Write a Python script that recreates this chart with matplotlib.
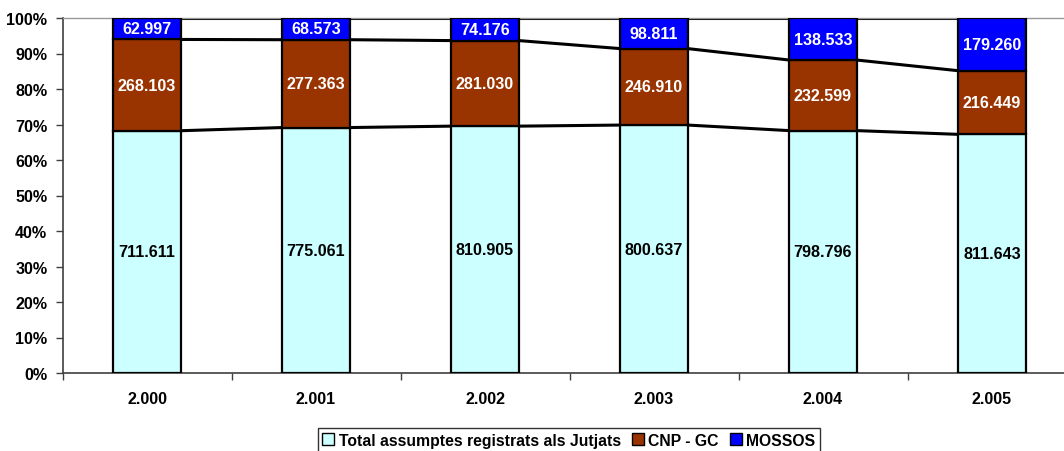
import numpy as np
import matplotlib.pyplot as plt

plt.rcParams['font.family'] = ['Liberation Sans', 'DejaVu Sans']
plt.rcParams['font.weight'] = 'bold'

years = ['2.000', '2.001', '2.002', '2.003', '2.004', '2.005']
jutjats = [711611, 775061, 810905, 800637, 798796, 811643]
cnp_gc = [268103, 277363, 281030, 246910, 232599, 216449]
mossos = [62997, 68573, 74176, 98811, 138533, 179260]

series = [jutjats, cnp_gc, mossos]
names = ['Total assumptes registrats als Jutjats', 'CNP - GC', 'MOSSOS']
colors = ['#CCFFFF', '#993300', '#0000FF']
text_colors = ['black', 'white', 'white']

def fmt(v):
    return '{:,}'.format(v).replace(',', '.')

data = np.array(series, dtype=float)
pct = data / data.sum(axis=0) * 100
x = np.arange(len(years))
w = 0.40
fs = 11.6

fig = plt.figure(figsize=(10.64, 4.52), dpi=100)
ax = fig.add_axes([62.5 / 1064, 78 / 452, 1014 / 1064, 355 / 452])

bottom = np.zeros(len(years))
for k in range(3):
    ax.bar(x, pct[k], w, bottom=bottom, color=colors[k], edgecolor='black',
           linewidth=1.6, label=names[k], zorder=3)
    for i in range(len(years)):
        ax.text(x[i], bottom[i] + pct[k][i] / 2, fmt(series[k][i]),
                ha='center', va='center', color=text_colors[k],
                fontsize=fs, fontweight='bold', zorder=4)
    bottom = bottom + pct[k]
    # series lines between bars
    for i in range(len(years) - 1):
        ax.plot([x[i] + w / 2, x[i + 1] - w / 2], [bottom[i], bottom[i + 1]],
                color='black', linewidth=2.2, zorder=2, solid_capstyle='butt')

ax.set_xlim(-0.5, len(years) - 0.5)
ax.set_ylim(0, 100)
ax.set_yticks(np.arange(0, 101, 10))
ax.set_yticklabels(['{}%'.format(v) for v in range(0, 101, 10)])
ax.set_xticks(x)
ax.set_xticklabels(years)
ax.set_xticks(np.arange(-0.5, len(years), 1), minor=True)
ax.tick_params(axis='x', which='major', length=0, pad=13, labelsize=fs)
ax.tick_params(axis='x', which='minor', length=5, width=1, color='#404040')
ax.tick_params(axis='y', length=5, width=1, color='#404040', pad=6, labelsize=fs)
for lab in ax.get_xticklabels() + ax.get_yticklabels():
    lab.set_fontweight('bold')

ax.spines['right'].set_visible(False)
ax.spines['top'].set_color('#999999')
ax.spines['top'].set_linewidth(1)
ax.spines['left'].set_color('#404040')
ax.spines['bottom'].set_color('#404040')
ax.spines['left'].set_linewidth(1.2)
ax.spines['bottom'].set_linewidth(1.2)

leg = fig.legend(loc='upper center', bbox_to_anchor=(569 / 1064, 1 - 429 / 452),
                 ncol=3, frameon=True, fancybox=False, edgecolor='black',
                 fontsize=11.3, handlelength=0.75, handleheight=0.75,
                 handletextpad=0.3, columnspacing=0.7, borderpad=0.3,
                 borderaxespad=0)
leg.get_frame().set_linewidth(1)
for t in leg.get_texts():
    t.set_fontweight('bold')
for h in leg.legend_handles:
    h.set_linewidth(1)

fig.savefig('out.png', dpi=100)
